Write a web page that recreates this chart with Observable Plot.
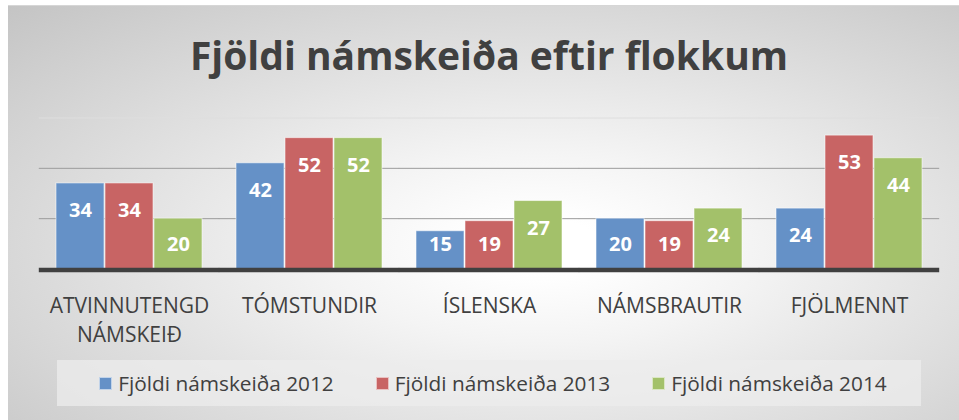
<!DOCTYPE html>
<html>
<head>
<meta charset="utf-8">
<script src="https://cdn.jsdelivr.net/npm/d3@7"></script>
<script src="https://cdn.jsdelivr.net/npm/@observablehq/plot@0.6"></script>
<style>
  html, body { margin: 0; padding: 0; background: #ffffff; }
  body { width: 959px; height: 420px; position: relative; overflow: hidden; font-family: "Open Sans", sans-serif; }
  #frame {
    position: absolute; left: 8px; top: 5px; width: 951px; height: 415px;
    background: radial-gradient(ellipse farthest-corner at 56% 58%, #ffffff 8%, #f4f4f4 28%, #c4c4c4 100%);
    border-top: 1px solid #d6d6d6;
    box-sizing: border-box;
  }
  #title {
    position: absolute; left: 0; top: 35px; width: 978px; text-align: center;
    font-family: "Open Sans", sans-serif; font-weight: 700; font-size: 39px; line-height: 40px;
    color: #404040;
  }
  #chart { position: absolute; left: 0; top: 0; }
  #legend {
    position: absolute; left: 57px; top: 360px; width: 864px; height: 46px;
    background: rgba(236,236,236,0.75);
    display: flex; align-items: center; justify-content: center; gap: 42px;
    padding-left: 8px; box-sizing: border-box;
  }
  .item { display: flex; align-items: center; font-size: 20.8px; color: #404040; white-space: nowrap; }
  .sw { width: 13px; height: 13px; margin-right: 6px; box-sizing: border-box; border: 1px solid rgba(255,255,255,0.6); }
</style>
</head>
<body>
<div id="frame"></div>
<div id="title">Fjöldi námskeiða eftir flokkum</div>
<div id="chart"></div>
<div id="legend"></div>
<script>
const categories = ["ATVINNUTENGD NÁMSKEIÐ", "TÓMSTUNDIR", "ÍSLENSKA", "NÁMSBRAUTIR", "FJÖLMENNT"];
const seriesNames = ["Fjöldi námskeiða 2012", "Fjöldi námskeiða 2013", "Fjöldi námskeiða 2014"];
const values2012 = [34, 42, 15, 20, 24];
const values2013 = [34, 52, 19, 19, 53];
const values2014 = [20, 52, 27, 24, 44];
const colors = ["#6591c7", "#c86464", "#a3c16a"];
const gridTicks = [20, 40];
const topTick = [60];

const seriesValues = [values2012, values2013, values2014];
const data = [];
categories.forEach((c, i) => {
  seriesNames.forEach((s, j) => {
    data.push({category: c, series: s, value: seriesValues[j][i]});
  });
});

const chart = Plot.plot({
  width: 959,
  height: 345,
  marginTop: 117.5,
  marginBottom: 76.5,
  marginLeft: 38,
  marginRight: 19,
  style: {background: "transparent", fontFamily: "Open Sans, sans-serif", overflow: "visible"},
  fx: {domain: categories, paddingInner: 0.19, paddingOuter: 0.095, axis: null},
  x: {domain: seriesNames, paddingInner: 0.03, paddingOuter: 0, axis: null},
  y: {domain: [0, 60], axis: null},
  color: {domain: seriesNames, range: colors},
  marks: [
    Plot.ruleY(topTick, {stroke: "#dedede", strokeWidth: 1, insetLeft: -17.2, insetRight: -17.2}),
    Plot.ruleY(gridTicks, {stroke: "#9c9c9c", strokeWidth: 1, insetLeft: -17.2, insetRight: -17.2}),
    Plot.barY(data, {fx: "category", x: "series", y: "value", fill: "series", stroke: "rgba(255,255,255,0.55)", strokeWidth: 1}),
    Plot.ruleY([0], {stroke: "#404040", strokeWidth: 4.5, dy: 1, insetLeft: -17.2, insetRight: -17.2}),
    Plot.text(data, {
      fx: "category", x: "series",
      y: d => Math.max(d.value - 10.8, 9.6),
      text: d => String(d.value),
      fill: "white", fontWeight: "bold", fontSize: 20
    }),
    Plot.axisFx({
      anchor: "bottom", tickSize: 0, tickPadding: 23, label: null,
      fontSize: 21, lineHeight: 1.4, color: "#404040",
      tickFormat: d => d.replace(" ", "\n")
    })
  ]
});
document.getElementById("chart").appendChild(chart);

const legend = document.getElementById("legend");
seriesNames.forEach((s, j) => {
  const item = document.createElement("div");
  item.className = "item";
  const sw = document.createElement("span");
  sw.className = "sw";
  sw.style.background = colors[j];
  const t = document.createElement("span");
  t.textContent = s;
  item.appendChild(sw);
  item.appendChild(t);
  legend.appendChild(item);
});
</script>
</body>
</html>
